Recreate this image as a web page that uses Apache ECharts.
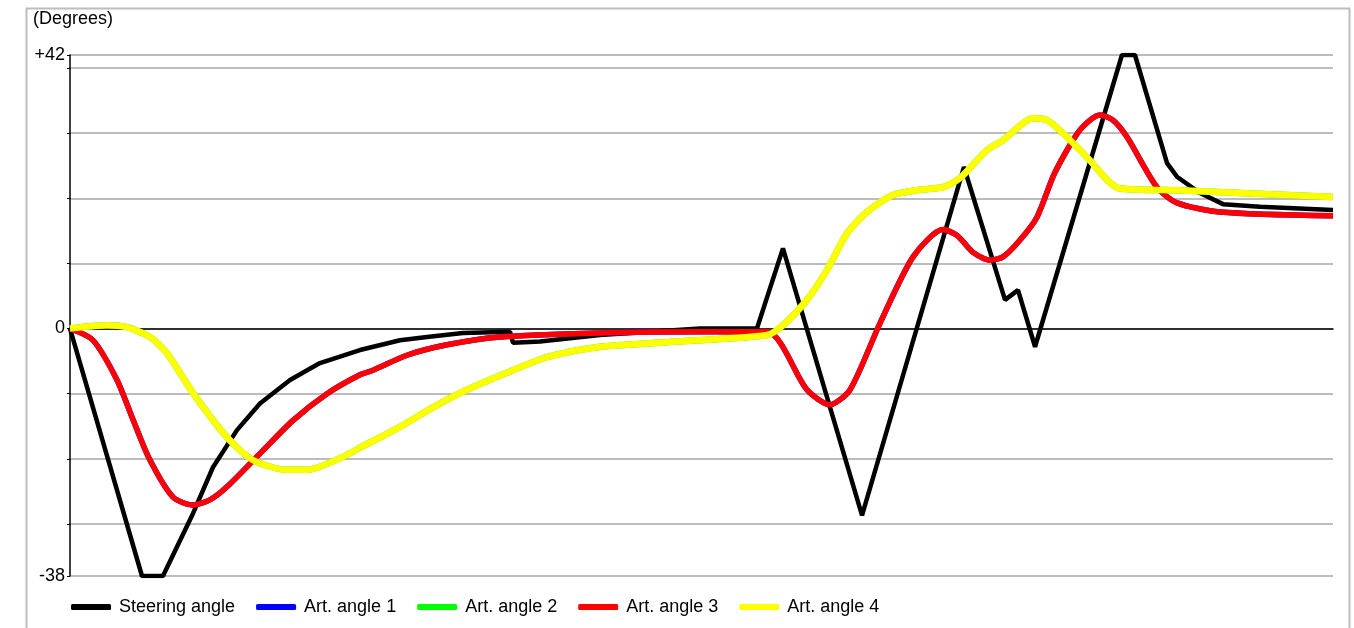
<!DOCTYPE html>
<html>
<head>
<meta charset="utf-8">
<script src="https://cdn.jsdelivr.net/npm/echarts@6/dist/echarts.min.js"></script>
<style>
html,body{margin:0;padding:0;background:#fff;}
#chart{width:1354px;height:628px;}
</style>
</head>
<body>
<div id="chart"></div>
<script>
// Time axis (0..100, unlabeled) and angles in degrees
const seriesNames = ['Steering angle', 'Art. angle 1', 'Art. angle 2', 'Art. angle 3', 'Art. angle 4'];
const yTickLabels = ['-38', '0', '+42'];

const steeringT = [0, 5.70, 7.36, 9.74, 11.32, 13.22, 15.04, 17.42, 19.79, 22.96, 26.13, 28.27, 31.12, 34.84, 35.08, 37.21, 41.96, 45.92, 49.88, 54.39, 56.45, 62.71, 70.78, 74.03, 75.06, 76.41, 83.29, 84.32, 86.86, 87.65, 89.47, 91.29, 94.22, 100];
const steeringV = [0, -38, -38, -28.4, -21.3, -15.6, -11.5, -7.9, -5.3, -3.3, -1.8, -1.3, -0.7, -0.5, -2.2, -2.0, -1.0, -0.5, 0, 0, 12.3, -28.7, 24.8, 4.4, 5.9, -2.8, 42, 42, 25.4, 23.3, 20.8, 19.1, 18.7, 18.2];

const art3T = [0, 1.82, 3.72, 4.99, 6.33, 8.16, 9.74, 11.08, 12.43, 15.04, 17.66, 20.35, 22.96, 23.99, 26.68, 29.85, 34.05, 41.96, 49.88, 55.19, 58.35, 60.17, 61.76, 64.13, 66.75, 69.12, 70.23, 71.50, 72.84, 73.87, 75.22, 76.56, 77.99, 79.97, 81.55, 82.58, 83.69, 86.06, 87.65, 91.05, 100];
const art3V = [0, -1.8, -7.9, -14, -20.2, -25.9, -27.1, -26.3, -24.3, -19.2, -14.1, -10, -7.1, -6.4, -4.1, -2.5, -1.3, -0.7, -0.5, -0.5, -9.4, -11.7, -9.4, 0.8, 11, 15.2, 14.3, 11.7, 10.5, 11, 13.6, 17.1, 24.0, 30.5, 32.8, 32, 29.4, 21.7, 19.3, 17.9, 17.3];

const art4T = [0, 2.93, 4.51, 6.33, 7.68, 9.74, 12.43, 14.49, 17.18, 18.77, 21.62, 22.96, 26.13, 28.74, 31.43, 35.08, 37.77, 41.96, 47.27, 55.19, 56.45, 58.35, 59.94, 61.52, 63.10, 65.16, 67.30, 69.12, 70.47, 72.60, 73.87, 76.25, 77.36, 78.62, 80.52, 83.14, 88.12, 100];
const art4V = [0, 0.5, 0.2, -1.3, -3.8, -9.9, -16.7, -20.2, -21.7, -21.7, -19.7, -18.3, -15.1, -12.1, -9.4, -6.4, -4.4, -2.8, -2.1, -1.0, 0.5, 4.4, 9, 14.6, 17.9, 20.5, 21.3, 21.7, 23.1, 27.4, 28.9, 32.3, 32, 30, 26.3, 21.5, 21.2, 20.2];

// Art. angle 1 coincides with Art. angle 3, Art. angle 2 with Art. angle 4 (hidden beneath)
const art1T = art3T, art1V = art3V;
const art2T = art4T, art2V = art4V;

const gridValues = [-38, -30, -20, -10, 0, 10, 20, 30, 40, 42];

function pairs(t, v) { return t.map((x, i) => [x, v[i]]); }

const chart = echarts.init(document.getElementById('chart'));
const font = '"Liberation Sans", Arial, sans-serif';

chart.setOption({
  animation: false,
  backgroundColor: '#ffffff',
  textStyle: { fontFamily: font },
  graphic: [
    { type: 'rect', left: 24, top: 6, shape: { width: 1323, height: 640 },
      style: { fill: 'none', stroke: '#bdbdbd', lineWidth: 2 }, z: -10, silent: true },
    { type: 'text', left: 33, top: 10,
      style: { text: '(Degrees)', font: '18px "Liberation Sans", Arial, sans-serif', fill: '#000' } }
  ],
  grid: { left: 70, right: 21, top: 55, bottom: 52, containLabel: false },
  legend: {
    left: 66, top: 593,
    itemWidth: 40, itemHeight: 6, itemGap: 21,
    icon: 'roundRect',
    textStyle: { fontSize: 18, color: '#000', fontFamily: font, padding: [0, 0, 0, 3] },
    data: seriesNames
  },
  xAxis: {
    type: 'value', min: 0, max: 100,
    axisLine: { onZero: true, lineStyle: { color: '#000', width: 1.5 } },
    axisTick: { show: false }, axisLabel: { show: false }, splitLine: { show: false }
  },
  yAxis: {
    type: 'value', min: -38, max: 42,
    axisLine: { show: true, lineStyle: { color: '#000', width: 1.5 } },
    axisTick: { show: true, length: 3, customValues: gridValues, lineStyle: { color: '#000' } },
    axisLabel: {
      customValues: [-38, 0, 42], margin: 5, fontSize: 18, color: '#000', fontFamily: font,
      formatter: function (v) { return v === 42 ? yTickLabels[2] : (v === 0 ? yTickLabels[1] : yTickLabels[0]); }
    },
    splitLine: { show: true, lineStyle: { color: '#bcbcbc', width: 2 } }
  },
  series: [
    { name: seriesNames[0], type: 'line', data: pairs(steeringT, steeringV), showSymbol: false, symbol: 'none',
      lineStyle: { color: '#000000', width: 4.5 }, itemStyle: { color: '#000000' }, z: 3 },
    { name: seriesNames[1], type: 'line', data: pairs(art1T, art1V), showSymbol: false, symbol: 'none', smooth: 0.25,
      lineStyle: { color: '#0000ff', width: 5.5 }, itemStyle: { color: '#0000ff' }, z: 4 },
    { name: seriesNames[2], type: 'line', data: pairs(art2T, art2V), showSymbol: false, symbol: 'none', smooth: 0.25,
      lineStyle: { color: '#00ff00', width: 6.5 }, itemStyle: { color: '#00ff00' }, z: 5 },
    { name: seriesNames[3], type: 'line', data: pairs(art3T, art3V), showSymbol: false, symbol: 'none', smooth: 0.25,
      lineStyle: { color: '#ff0000', width: 5.5 }, itemStyle: { color: '#ff0000' }, z: 6 },
    { name: seriesNames[4], type: 'line', data: pairs(art4T, art4V), showSymbol: false, symbol: 'none', smooth: 0.25,
      lineStyle: { color: '#ffff00', width: 6.5 }, itemStyle: { color: '#ffff00' }, z: 7 }
  ]
});
</script>
</body>
</html>
